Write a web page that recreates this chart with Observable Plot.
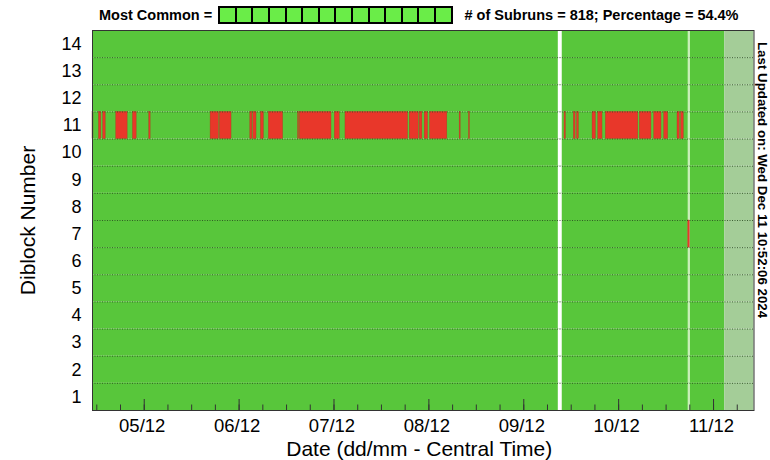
<!DOCTYPE html>
<html><head><meta charset="utf-8">
<script src="https://cdn.jsdelivr.net/npm/d3@7"></script>
<script src="https://cdn.jsdelivr.net/npm/@observablehq/plot@0.6"></script>
<style>
body{margin:0;background:#fff;font-family:"Liberation Sans",Arial,Helvetica,sans-serif;}
#wrap{position:relative;width:770px;height:460px;overflow:hidden;}
#legend{position:absolute;top:7px;left:99px;height:16px;display:flex;align-items:center;font-weight:bold;font-size:14.5px;color:#000;white-space:nowrap;}
#legend .box{display:flex;margin:0 12px 0 6px;border:1px solid #000;}
#legend .cell{width:14.6px;height:14px;border:1px solid #000;background:#6aed48;box-sizing:content-box;}
#updated{position:absolute;left:768px;top:42px;transform:rotate(90deg);transform-origin:0 0;font-weight:bold;font-size:13.3px;line-height:12px;white-space:nowrap;color:#000;}
</style></head>
<body><div id="wrap"></div>
<script>
// ---- data ----
const diblocks = [1,2,3,4,5,6,7,8,9,10,11,12,13,14];
const dayTicks = ["2024-12-05T00:00","2024-12-06T00:00","2024-12-07T00:00","2024-12-08T00:00","2024-12-09T00:00","2024-12-10T00:00","2024-12-11T00:00"];
const axisStart = "2024-12-04T10:55";
const dataEnd = "2024-12-11T02:50";
const axisEnd = "2024-12-11T10:14";
// periods where diblock 11 differs from most common configuration
const redDiblock11 = [
  ["2024-12-04T10:55","2024-12-04T11:10"],
  ["2024-12-04T12:33","2024-12-04T13:08"],
  ["2024-12-04T13:38","2024-12-04T14:15"],
  ["2024-12-04T16:55","2024-12-04T19:48"],
  ["2024-12-04T21:09","2024-12-04T22:05"],
  ["2024-12-05T01:16","2024-12-05T01:37"],
  ["2024-12-05T16:47","2024-12-05T18:53"],
  ["2024-12-05T19:08","2024-12-05T22:05"],
  ["2024-12-06T02:50","2024-12-06T03:21"],
  ["2024-12-06T03:36","2024-12-06T04:24"],
  ["2024-12-06T05:30","2024-12-06T06:15"],
  ["2024-12-06T07:31","2024-12-06T11:08"],
  ["2024-12-06T14:55","2024-12-06T15:10"],
  ["2024-12-06T15:21","2024-12-06T23:22"],
  ["2024-12-07T00:12","2024-12-07T01:27"],
  ["2024-12-07T02:54","2024-12-07T18:43"],
  ["2024-12-07T19:09","2024-12-07T21:25"],
  ["2024-12-07T21:40","2024-12-07T22:21"],
  ["2024-12-07T22:56","2024-12-07T23:46"],
  ["2024-12-08T00:17","2024-12-08T04:40"],
  ["2024-12-08T07:47","2024-12-08T08:02"],
  ["2024-12-08T10:08","2024-12-08T10:23"],
  ["2024-12-09T10:19","2024-12-09T10:39"],
  ["2024-12-09T12:40","2024-12-09T13:06"],
  ["2024-12-09T13:29","2024-12-09T13:56"],
  ["2024-12-09T17:24","2024-12-09T18:14"],
  ["2024-12-09T18:50","2024-12-09T19:55"],
  ["2024-12-09T20:45","2024-12-10T04:57"],
  ["2024-12-10T05:21","2024-12-10T08:18"],
  ["2024-12-10T08:59","2024-12-10T10:50"],
  ["2024-12-10T11:31","2024-12-10T12:31"],
  ["2024-12-10T14:53","2024-12-10T15:27"],
  ["2024-12-10T15:49","2024-12-10T16:28"]
];
const redDiblock7 = [["2024-12-10T17:35","2024-12-10T18:00"]];
const noData = [["2024-12-09T08:44","2024-12-09T09:44"]];
const paleSubrun = [["2024-12-10T17:35","2024-12-10T18:10"]];
const legendLabel = "Most Common =";
const subrunCount = 818;
const percentage = 54.4;
const updatedText = "Last Updated on: Wed Dec 11 10:52:06 2024";

// ---- chart ----
const parse = d3.timeParse("%Y-%m-%dT%H:%M");
const GREEN = "#58c63b", RED = "#e8372a", GRAY = "#a4cd98";
const spans = (arr, row) => arr.map(([a, b]) => ({x1: parse(a), x2: parse(b), row}));
const allRows = (arr) => arr.flatMap(([a, b]) => diblocks.map(r => ({x1: parse(a), x2: parse(b), row: r})));
const plotH = 460 - 30 - 50;
const minorTicks = d3.timeHour.every(6).range(parse(axisStart), parse(axisEnd));

const chart = Plot.plot({
  width: 770, height: 460,
  marginTop: 30, marginBottom: 50, marginLeft: 92, marginRight: 16.5,
  style: {fontFamily: "'Liberation Sans', Arial, Helvetica, sans-serif", background: "transparent", color: "#000"},
  x: {type: "time", domain: [parse(axisStart), parse(axisEnd)], label: null},
  y: {domain: [0.5, 14.5], label: null},
  marks: [
    Plot.rect(diblocks, {x1: () => parse(axisStart), x2: () => parse(dataEnd), y1: d => d - 0.5, y2: d => d + 0.5, fill: GREEN}),
    Plot.rect(diblocks, {x1: () => parse(dataEnd), x2: () => parse(axisEnd), y1: d => d - 0.5, y2: d => d + 0.5, fill: GRAY}),
    Plot.rect(allRows(noData), {x1: "x1", x2: "x2", y1: d => d.row - 0.5, y2: d => d.row + 0.5, fill: "#fff"}),
    Plot.rect(allRows(paleSubrun), {x1: "x1", x2: "x2", y1: d => d.row - 0.5, y2: d => d.row + 0.5, fill: "#c9efb8"}),
    Plot.rect(spans(redDiblock11, 11).concat(spans(redDiblock7, 7)), {x1: "x1", x2: "x2", y1: d => d.row - 0.5, y2: d => d.row + 0.5, fill: RED, stroke: "#a8421f", strokeWidth: 0.4}),
    Plot.ruleY(diblocks.slice(0, -1), {y: d => d + 0.5, stroke: "#2c4a22", strokeDasharray: "1,1.5", strokeOpacity: 0.85}),
    Plot.ruleX(minorTicks, {x: d => d, insetTop: plotH - 5.5, stroke: "#333"}),
    Plot.ruleX(dayTicks.map(parse), {x: d => d, insetTop: plotH - 11, stroke: "#333"}),
    Plot.frame({stroke: "#333"}),
    Plot.axisX({ticks: dayTicks.map(parse), tickFormat: d3.timeFormat("%d/%m"), tickSize: 0, tickPadding: 8, fontSize: 18.5, dx: -2, label: null}),
    Plot.axisY({ticks: diblocks, tickSize: 0, tickPadding: 11, fontSize: 18, label: null}),
    Plot.text(["Date (dd/mm - Central Time)"], {frameAnchor: "bottom", lineAnchor: "middle", dy: 39, dx: -4, fontSize: 21, text: d => d}),
    Plot.text(["Diblock Number"], {frameAnchor: "left", textAnchor: "middle", lineAnchor: "middle", dx: -64, rotate: -90, fontSize: 21, text: d => d})
  ]
});

const wrap = document.getElementById("wrap");
wrap.appendChild(chart);
chart.style.position = "absolute"; chart.style.left = "0"; chart.style.top = "0";

const legend = document.createElement("div");
legend.id = "legend";
const t1 = document.createElement("span"); t1.textContent = legendLabel;
const box = document.createElement("div"); box.className = "box";
diblocks.forEach(() => { const c = document.createElement("div"); c.className = "cell"; box.appendChild(c); });
const t2 = document.createElement("span"); t2.textContent = `# of Subruns = ${subrunCount}; Percentage = ${percentage}%`;
legend.append(t1, box, t2);
wrap.appendChild(legend);

const upd = document.createElement("div");
upd.id = "updated"; upd.textContent = updatedText;
wrap.appendChild(upd);
</script>
</body></html>
